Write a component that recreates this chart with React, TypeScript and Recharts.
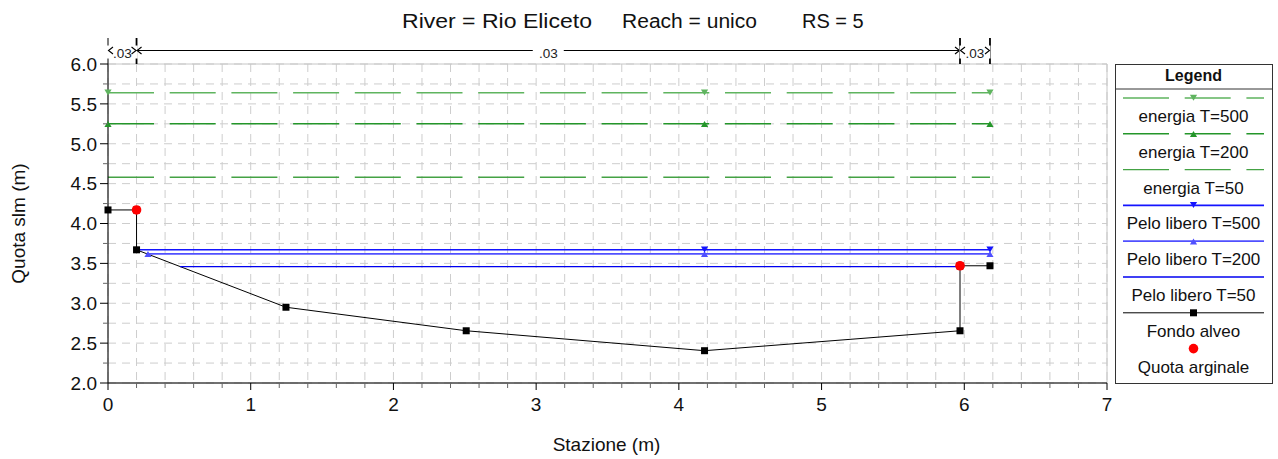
import React from 'react';
import { ComposedChart, Line, XAxis, YAxis, CartesianGrid, ReferenceLine } from 'recharts';

// ---------- data ----------
const fondoAlveo = [
  { x: 0, y: 4.17 },
  { x: 0.2, y: 4.17 },
  { x: 0.2, y: 3.67 },
  { x: 1.247, y: 2.95 },
  { x: 2.51, y: 2.655 },
  { x: 4.18, y: 2.405 },
  { x: 5.97, y: 2.655 },
  { x: 5.97, y: 3.47 },
  { x: 6.18, y: 3.47 },
];
const quotaArginale = [
  { x: 0.2, y: 4.17 },
  { x: 5.97, y: 3.47 },
];
const peloLibero500 = [
  { x: 0.2, y: 3.67 },
  { x: 4.18, y: 3.67 },
  { x: 6.18, y: 3.67 },
];
const peloLibero200 = [
  { x: 0.28, y: 3.62 },
  { x: 4.18, y: 3.62 },
  { x: 6.18, y: 3.62 },
];
const peloLibero50 = [
  { x: 0.505, y: 3.46 },
  { x: 5.97, y: 3.46 },
];
const energia500 = [
  { x: 0, y: 5.64 },
  { x: 4.18, y: 5.64 },
  { x: 6.18, y: 5.64 },
];
const energia200 = [
  { x: 0, y: 5.25 },
  { x: 4.18, y: 5.25 },
  { x: 6.18, y: 5.25 },
];
const energia50 = [
  { x: 0, y: 4.58 },
  { x: 6.18, y: 4.58 },
];

// Manning roughness sections
const nBreaks = [0, 0.2, 5.97, 6.18];
const nValues = ['.03', '.03', '.03'];

// ticks
const xMajorTicks = [0, 1, 2, 3, 4, 5, 6, 7];
const xMinorTicks = [
  0, 0.2, 0.4, 0.6, 0.8, 1, 1.2, 1.4, 1.6, 1.8, 2, 2.2, 2.4, 2.6, 2.8, 3, 3.2, 3.4, 3.6, 3.8,
  4, 4.2, 4.4, 4.6, 4.8, 5, 5.2, 5.4, 5.6, 5.8, 6, 6.2, 6.4, 6.6, 6.8, 7,
];
const yMajorTicks = [2, 2.5, 3, 3.5, 4, 4.5, 5, 5.5, 6];
const yMinorTicks = [2, 2.25, 2.5, 2.75, 3, 3.25, 3.5, 3.75, 4, 4.25, 4.5, 4.75, 5, 5.25, 5.5, 5.75, 6];

const titleParts = ['River = Rio Eliceto', 'Reach = unico', 'RS = 5'];
const xLabel = 'Stazione (m)';
const yLabel = 'Quota slm (m)';
const legendNames = [
  'energia T=500',
  'energia T=200',
  'energia T=50',
  'Pelo libero T=500',
  'Pelo libero T=200',
  'Pelo libero T=50',
  'Fondo alveo',
  'Quota arginale',
];

// ---------- styles ----------
const FONT = '"Liberation Sans", Arial, Helvetica, sans-serif';
const W = 1278;
const H = 459;
const DIM_Y = 6.169;
const DIM_TOP = 6.326;
const DASH = '46 15.7';

type Style = { color: string; width: number; dash?: string; marker?: string; line: boolean };
const styles: Style[] = [
  { color: '#5fb45f', width: 1.5, dash: DASH, marker: 'down', line: true },
  { color: '#24962a', width: 1.5, dash: DASH, marker: 'up', line: true },
  { color: '#44a244', width: 1.4, dash: DASH, line: true },
  { color: '#1414ff', width: 1.6, marker: 'down', line: true },
  { color: '#5050ff', width: 1.8, marker: 'up', line: true },
  { color: '#0000f0', width: 1.3, line: true },
  { color: '#000000', width: 1, marker: 'square', line: true },
  { color: '#ff0000', width: 0, marker: 'circle', line: false },
];

const drawMarker = (kind: string | undefined, cx: number, cy: number, color: string, key?: any) => {
  if (kind === 'down')
    return <path key={key} d={`M${cx - 3.6},${cy - 3.3}L${cx + 3.6},${cy - 3.3}L${cx},${cy + 2.7}Z`} fill={color} />;
  if (kind === 'up')
    return <path key={key} d={`M${cx - 3.6},${cy + 3.3}L${cx + 3.6},${cy + 3.3}L${cx},${cy - 2.7}Z`} fill={color} />;
  if (kind === 'square') return <rect key={key} x={cx - 3.5} y={cy - 3.5} width={7} height={7} fill={color} />;
  if (kind === 'circle') return <circle key={key} cx={cx} cy={cy} r={4.8} fill={color} />;
  return <g key={key} />;
};

const makeDot = (s: Style, skipFirst = false) => (p: any) => {
  if (p.cx == null || p.cy == null || (skipFirst && p.index === 0)) return <g key={p.key ?? p.index} />;
  return drawMarker(s.marker, p.cx, p.cy, s.color, p.key ?? p.index);
};

const YTick = (p: any) => {
  const { x, y, payload } = p;
  const v = payload.value as number;
  const major = yMajorTicks.includes(v);
  return (
    <g>
      <line x1={x - (major ? 8 : 5)} x2={x} y1={y} y2={y} stroke={major ? '#000' : '#666'} strokeWidth={1} />
      {major && (
        <text x={x - 11} y={y} dy="0.36em" textAnchor="end" fontSize={19} fontFamily={FONT} fill="#111">
          {v.toFixed(1)}
        </text>
      )}
    </g>
  );
};

const XTick = (p: any) => {
  const { x, y, payload } = p;
  const v = payload.value as number;
  const major = xMajorTicks.includes(v);
  return (
    <g>
      <line x1={x} x2={x} y1={y} y2={y + (major ? 7 : 5)} stroke={major ? '#000' : '#666'} strokeWidth={1} />
      {major && (
        <text x={x} y={y + 15} dy="0.71em" textAnchor="middle" fontSize={19} fontFamily={FONT} fill="#111">
          {String(v)}
        </text>
      )}
    </g>
  );
};

const DimLine = (props: any) => {
  const { x1, y1, x2, text } = props;
  const cx = (x1 + x2) / 2;
  const tw = text.length * 7;
  return (
    <g>
      <line x1={x1} y1={y1} x2={x2} y2={y1} stroke="#000" strokeWidth={1.2} />
      <rect x={cx - tw / 2 - 5} y={y1 - 5} width={tw + 10} height={13} fill="#fff" />
      <text x={cx} y={y1 + 7} textAnchor="middle" fontSize={13.5} fontFamily={FONT} fill="#222">
        {text}
      </text>
      <path d={`M${x1 + 5},${y1 - 3.5}L${x1 + 0.5},${y1}L${x1 + 5},${y1 + 3.5}`} fill="none" stroke="#000" strokeWidth={1.1} />
      <path d={`M${x2 - 5},${y1 - 3.5}L${x2 - 0.5},${y1}L${x2 - 5},${y1 + 3.5}`} fill="none" stroke="#000" strokeWidth={1.1} />
    </g>
  );
};

const series = [energia500, energia200, energia50, peloLibero500, peloLibero200, peloLibero50, fondoAlveo, quotaArginale];
const drawOrder = [0, 1, 2, 6, 5, 4, 3, 7];

const Legend = () => {
  const LX = 1115;
  const LY = 64;
  const LW = 157;
  const LH = 319;
  const step = 35.8;
  return (
    <g>
      <rect x={LX + 0.5} y={LY + 0.5} width={LW} height={LH} fill="#fff" stroke="#333" strokeWidth={1} />
      <text x={LX + LW / 2} y={LY + 17} textAnchor="middle" fontSize={16} fontWeight="bold" fontFamily={FONT} fill="#111">
        Legend
      </text>
      <line x1={LX} x2={LX + LW} y1={LY + 25} y2={LY + 25} stroke="#333" />
      {legendNames.map((name, i) => {
        const s = styles[i];
        const top = LY + 25 + i * step;
        const ly = top + 9;
        const x1 = LX + 8;
        const x2 = LX + 149;
        return (
          <g key={name}>
            {s.line && (
              <line x1={x1} x2={x2} y1={ly} y2={ly} stroke={s.color} strokeWidth={s.width} strokeDasharray={s.dash} />
            )}
            {drawMarker(s.marker, (x1 + x2) / 2, ly, s.color)}
            <text x={LX + LW / 2} y={top + 33} textAnchor="middle" fontSize={17} fontFamily={FONT} fill="#111">
              {name}
            </text>
          </g>
        );
      })}
    </g>
  );
};

export default function App() {
  return (
    <div style={{ position: 'absolute', left: 0, top: 0, width: W, height: H, background: '#fff' }}>
      <ComposedChart width={W} height={H} margin={{ top: 64, right: 171, bottom: 0, left: 8 }}>
        <XAxis
          type="number"
          dataKey="x"
          domain={[0, 7]}
          ticks={xMinorTicks}
          interval={0}
          height={76}
          axisLine={{ stroke: '#000' }}
          tickLine={false}
          tickSize={0}
          tickMargin={0}
          tick={<XTick />}
        />
        <YAxis
          type="number"
          dataKey="y"
          domain={[2, 6]}
          ticks={yMinorTicks}
          interval={0}
          width={100}
          axisLine={{ stroke: '#000' }}
          tickLine={false}
          tickSize={0}
          tickMargin={0}
          tick={<YTick />}
        />
        <XAxis xAxisId="major" type="number" dataKey="x" domain={[0, 7]} ticks={xMajorTicks} interval={0} hide />
        <YAxis yAxisId="major" type="number" dataKey="y" domain={[2, 6]} ticks={yMajorTicks} interval={0} hide />
        <CartesianGrid stroke="#cdcdcd" strokeDasharray="8 6" />
        <CartesianGrid xAxisId="major" yAxisId="major" stroke="#c6c6c6" />
        {drawOrder.map((i) => {
          const s = styles[i];
          return (
            <Line
              key={legendNames[i]}
              name={legendNames[i]}
              data={series[i]}
              dataKey="y"
              type="linear"
              stroke={s.line ? s.color : 'none'}
              strokeWidth={s.line ? s.width : 0}
              strokeDasharray={s.dash}
              dot={s.marker ? makeDot(s, i === 3) : false}
              activeDot={false}
              isAnimationActive={false}
            />
          );
        })}
        {nBreaks.map((b, i) => (
          <ReferenceLine
            key={'nb' + i}
            segment={[
              { x: b, y: 6 },
              { x: b, y: DIM_TOP },
            ]}
            ifOverflow="visible"
            stroke="#000"
            strokeWidth={i === 0 ? 1 : 1.8}
          />
        ))}
        {nValues.map((n, i) => (
          <ReferenceLine
            key={'nv' + i}
            segment={[
              { x: nBreaks[i], y: DIM_Y },
              { x: nBreaks[i + 1], y: DIM_Y },
            ]}
            ifOverflow="visible"
            stroke="#000"
            shape={(p: any) => <DimLine {...p} text={n} />}
          />
        ))}
      </ComposedChart>
      <svg width={W} height={H} style={{ position: 'absolute', left: 0, top: 0, pointerEvents: 'none' }}>
        <g fontFamily={FONT} fill="#111">
          <text x={402} y={28} fontSize={20} textLength={190} lengthAdjust="spacingAndGlyphs">
            {titleParts[0]}
          </text>
          <text x={622} y={28} fontSize={20} textLength={135} lengthAdjust="spacingAndGlyphs">
            {titleParts[1]}
          </text>
          <text x={802} y={28} fontSize={20}>
            {titleParts[2]}
          </text>
          <text x={606.5} y={451} fontSize={19} textAnchor="middle">
            {xLabel}
          </text>
          <text x={25} y={223.5} fontSize={19} textAnchor="middle" transform="rotate(-90 25 223.5)">
            {yLabel}
          </text>
        </g>
        <Legend />
      </svg>
    </div>
  );
}
